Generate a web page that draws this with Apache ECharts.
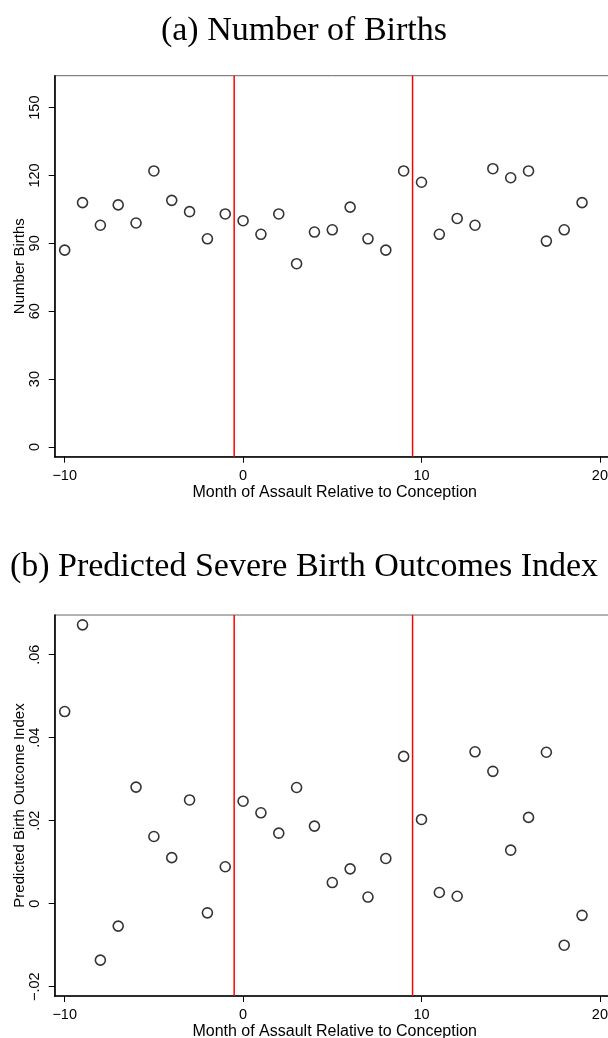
<!DOCTYPE html>
<html><head><meta charset="utf-8">
<script src="https://cdn.jsdelivr.net/npm/echarts@6/dist/echarts.min.js"></script>
<style>html,body{margin:0;padding:0;background:#fff}#c{width:608px;height:1038px}</style>
</head><body><div id="c"></div>
<script>
var months = [-10,-9,-8,-7,-6,-5,-4,-3,-2,-1,0,1,2,3,4,5,6,7,8,9,10,11,12,13,14,15,16,17,18,19];
var births = [87,108,98,107,99,122,109,104,92,103,100,94,103,81,95,96,106,92,87,122,117,94,101,98,123,119,122,91,96,108];
var outcome = [0.0463,0.0672,-0.0136,-0.0054,0.0281,0.0162,0.0111,0.0250,-0.0022,0.0089,0.0247,0.0219,0.0170,0.0280,0.0187,0.0051,0.0084,0.0016,0.0109,0.0355,0.0203,0.0027,0.0018,0.0366,0.0319,0.0129,0.0208,0.0365,-0.0100,-0.0028];
var xTicks = [-10,0,10,20];
var yTicksA = [0,30,60,90,120,150];
var yTicksB = [-0.02,0,0.02,0.04,0.06];
var refLines = [-0.5,9.5];
var titles = ['(a) Number of Births','(b) Predicted Severe Birth Outcomes Index'];
var yNames = ['Number Births','Predicted Birth Outcome Index'];
var xName = 'Month of Assault Relative to Conception';

function minus(s){return String(s).replace('-','\u2212');}
function fmtB(v){ if(Math.abs(v)<1e-9) return '0'; var s=v.toFixed(2).replace('0.','.'); return minus(s);}

var chart = echarts.init(document.getElementById('c'), null, {renderer:'canvas'});
var sans = 'Liberation Sans';
var XMIN=-10.56, XMAX=20.83;
var YA=[-4.3,164.1], YB=[-0.02224,0.06957];
function xAxis(gi){
  return {type:'value', gridIndex:gi, min:XMIN, max:XMAX, name:xName, nameLocation:'middle', nameGap:28, nameMoveOverlap:false,
    nameTextStyle:{fontFamily:sans,fontSize:16,color:'#000'},
    axisLine:{show:true,onZero:false,lineStyle:{color:'#000',width:1.6}},
    axisTick:{show:true,length:6,customValues:xTicks,lineStyle:{color:'#000',width:1}},
    axisLabel:{customValues:xTicks,fontFamily:sans,fontSize:14.5,color:'#000',margin:11.5,formatter:function(v){return minus(v);}},
    splitLine:{show:false}};
}
function yAxis(gi,rng,ticks,fmt){
  return {type:'value', gridIndex:gi, min:rng[0], max:rng[1], name:yNames[gi], nameLocation:'middle', nameGap:27, nameMoveOverlap:false,
    nameTextStyle:{fontFamily:sans,fontSize:15,color:'#000'},
    axisLine:{show:true,onZero:false,lineStyle:{color:'#000',width:1.6}},
    axisTick:{show:true,length:6,customValues:ticks,lineStyle:{color:'#000',width:1}},
    axisLabel:{customValues:ticks,rotate:90,fontFamily:sans,fontSize:14.5,color:'#000',margin:12.5,formatter:fmt},
    splitLine:{show:false}};
}
function pts(arr){return months.map(function(m,i){return [m,arr[i]];});}
function scatter(gi,arr){
  return {type:'scatter', xAxisIndex:gi, yAxisIndex:gi, data:pts(arr), symbol:'circle', symbolSize:10, z:5,
    itemStyle:{color:'rgba(255,255,255,0)',borderColor:'#000',borderWidth:1.6},
    emphasis:{disabled:true}, silent:true, animation:false};
}
function vline(gi,x,rng){
  return {type:'line', xAxisIndex:gi, yAxisIndex:gi, data:[[x,rng[0]],[x,rng[1]]], showSymbol:false, symbol:'none', z:3,
    lineStyle:{color:'#ff0000',width:1.5,opacity:1}, silent:true, animation:false, emphasis:{disabled:true}};
}
var seriesList = [scatter(0,births),scatter(1,outcome)];
refLines.forEach(function(x){ seriesList.push(vline(0,x,YA)); seriesList.push(vline(1,x,YB)); });
chart.setOption({
  animation:false,
  title:[
    {text:titles[0],left:'center',top:9.5,textStyle:{fontFamily:'Liberation Serif',fontSize:34,fontWeight:'normal',color:'#000'}},
    {text:titles[1],left:'center',top:545.5,textStyle:{fontFamily:'Liberation Serif',fontSize:34,fontWeight:'normal',color:'#000'}}
  ],
  grid:[
    {left:54.7,top:75.7,width:560,height:381,outerBoundsMode:'none',containLabel:false,show:true,borderColor:'#666',borderWidth:1,backgroundColor:'#fff'},
    {left:54.7,top:615,width:560,height:381,outerBoundsMode:'none',containLabel:false,show:true,borderColor:'#666',borderWidth:1,backgroundColor:'#fff'}
  ],
  xAxis:[xAxis(0),xAxis(1)],
  yAxis:[yAxis(0,YA,yTicksA,function(v){return String(v);}), yAxis(1,YB,yTicksB,fmtB)],
  series:seriesList
});
</script></body></html>
